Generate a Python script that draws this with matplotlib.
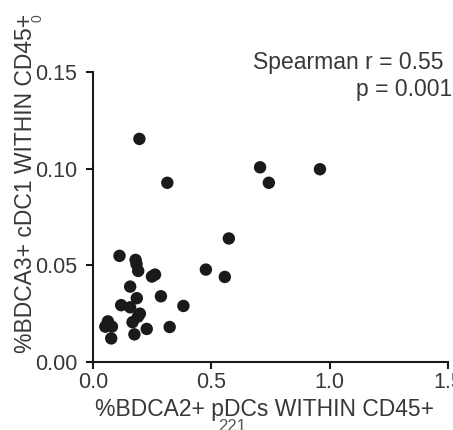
import matplotlib
matplotlib.use('Agg')
import matplotlib.pyplot as plt
import numpy as np

plt.rcParams['font.family'] = ['Liberation Sans', 'DejaVu Sans']

# Dados
pdc = [0.196, 0.314, 0.706, 0.743, 0.959, 0.574, 0.477, 0.557,
       0.112, 0.180, 0.184, 0.191, 0.249, 0.262, 0.157, 0.287,
       0.185, 0.119, 0.157, 0.382, 0.198, 0.167, 0.227, 0.324,
       0.175, 0.063, 0.052, 0.080, 0.077, 0.190]
cdc1 = [0.1154, 0.0927, 0.1007, 0.0927, 0.0997, 0.0639, 0.0478, 0.0440,
        0.0549, 0.0528, 0.0506, 0.0471, 0.0442, 0.0452, 0.0390, 0.0340,
        0.0330, 0.0294, 0.0283, 0.0290, 0.0250, 0.0206, 0.0171, 0.0181,
        0.0143, 0.0210, 0.0183, 0.0183, 0.0122, 0.0235]

xticks = [0.0, 0.5, 1.0, 1.5]
yticks = [0.00, 0.05, 0.10, 0.15]

fig = plt.figure(figsize=(4.53, 4.30), dpi=100)
ax = fig.add_axes([93/453, 68/430, 355/453, 290/430])

ax.scatter(pdc, cdc1, s=80, color='#1a1a1a', edgecolors='none', zorder=3, clip_on=False)

ax.set_xlim(0, 1.5)
ax.set_ylim(0, 0.15)
ax.set_xticks(xticks)
ax.set_xticklabels(['0.0', '0.5', '1.0', '1.5'])
ax.set_yticks(yticks)
ax.set_yticklabels(['0.00', '0.05', '0.10', '0.15'])

for s in ['top', 'right']:
    ax.spines[s].set_visible(False)
for s in ['left', 'bottom']:
    ax.spines[s].set_linewidth(1.5)
    ax.spines[s].set_color('#1a1a1a')

ax.tick_params(direction='out', length=5, width=1.5, color='#1a1a1a',
               labelsize=15.5, labelcolor='#383838')
ax.tick_params(axis='x', pad=2)
ax.tick_params(axis='y', pad=6.5)

ax.set_xlabel('%BDCA2+ pDCs WITHIN CD45+', fontsize=16.5, color='#383838')
ax.set_ylabel('%BDCA3+ cDC1 WITHIN CD45+', fontsize=16.5, color='#383838')
ax.xaxis.set_label_coords(0.483, -0.125)
ax.yaxis.set_label_coords(-0.157, 0.617)

ax.text(0.986, 1.034, 'Spearman r = 0.55', transform=ax.transAxes, ha='right', va='center',
        fontsize=16.5, color='#383838')
ax.text(1.011, 0.94, 'p = 0.001', transform=ax.transAxes, ha='right', va='center',
        fontsize=16.5, color='#383838')

# restos de texto cortados na borda
fig.text(232/453, 1 - 419/430, '221', ha='center', va='top', fontsize=12, color='#555555')
fig.text(38/453, 1 - 18/430, '0', ha='center', va='center', fontsize=10, color='#555555',
         rotation=90)

fig.savefig('out.png', dpi=100)
